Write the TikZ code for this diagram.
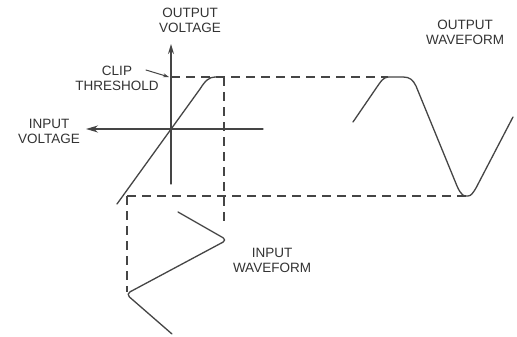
\documentclass[tikz,border=0pt]{standalone}
\usepackage{fontspec}
\setmainfont{Liberation Sans}
\usetikzlibrary{arrows.meta}
\definecolor{ink}{HTML}{454545}
\definecolor{txt}{HTML}{333333}
\begin{document}
\begin{tikzpicture}[x=1pt,y=-1pt,
  solidline/.style={draw=ink,line width=1.3pt,line cap=round,line join=round},
  dashline/.style={draw=ink,line width=1.2pt,dash pattern=on 9pt off 6pt},
  lbl/.style={text=txt,align=center,inner sep=0pt,font=\fontsize{13.5}{15}\selectfont}]
\useasboundingbox[fill=white] (0,0) rectangle (517,337);
% coordinates
\coordinate (vtop) at (171,44);
\coordinate (vbot) at (171,184);
\coordinate (hright) at (263,129);
\coordinate (hleft) at (86,129);
\coordinate (clipL) at (171,77);
\coordinate (clipR) at (388,77);
\coordinate (lowL) at (127,196);
\coordinate (lowR) at (466,196);
\coordinate (vdTop) at (224,77);
\coordinate (vdBot) at (224,226);
\coordinate (ldBot) at (127,292);
\coordinate (clipFrom) at (146,70);
% axes
\draw[solidline,-{Stealth[length=10pt,width=6pt]}] (vbot) -- (vtop);
\draw[solidline,-{Stealth[length=12pt,width=7pt]}] (hright) -- (hleft);
% dashed projection lines
\draw[dashline] (clipL) -- (clipR);
\draw[dashline] (lowL) -- (lowR);
\draw[dashline] (vdTop) -- (vdBot);
\draw[dashline] (lowL) -- (ldBot);
% transfer curve
\draw[solidline] (117,204) -- (200,89) .. controls (205,81) and (209,77) .. (215,77) -- (224,77);
% clip pointer
\draw[solidline,line width=1pt,-{Stealth[length=6pt,width=4pt]}] (clipFrom) -- (169,77);
% output waveform
\draw[solidline] (353,122) -- (379,84) .. controls (384,77) and (386,77) .. (391,77) -- (403,77)
  .. controls (410,77) and (413,80) .. (416,86) -- (457,186)
  .. controls (461,195) and (464,197) .. (468,196) .. controls (471,196) and (473,193) .. (476,188) -- (513,117);
% input waveform
\draw[solidline,rounded corners=4.5pt] (178,212) -- (227,240) -- (126,294) -- (172,334);
% labels
\node[lbl] (outv) at (190,20) {OUTPUT\\VOLTAGE};
\node[lbl] (clipt) at (117,78) {CLIP\\THRESHOLD};
\node[lbl] (inv) at (49,131) {INPUT\\VOLTAGE};
\node[lbl] (outw) at (465,32) {OUTPUT\\WAVEFORM};
\node[lbl] (inw) at (272,260) {INPUT\\WAVEFORM};
\end{tikzpicture}
\end{document}
